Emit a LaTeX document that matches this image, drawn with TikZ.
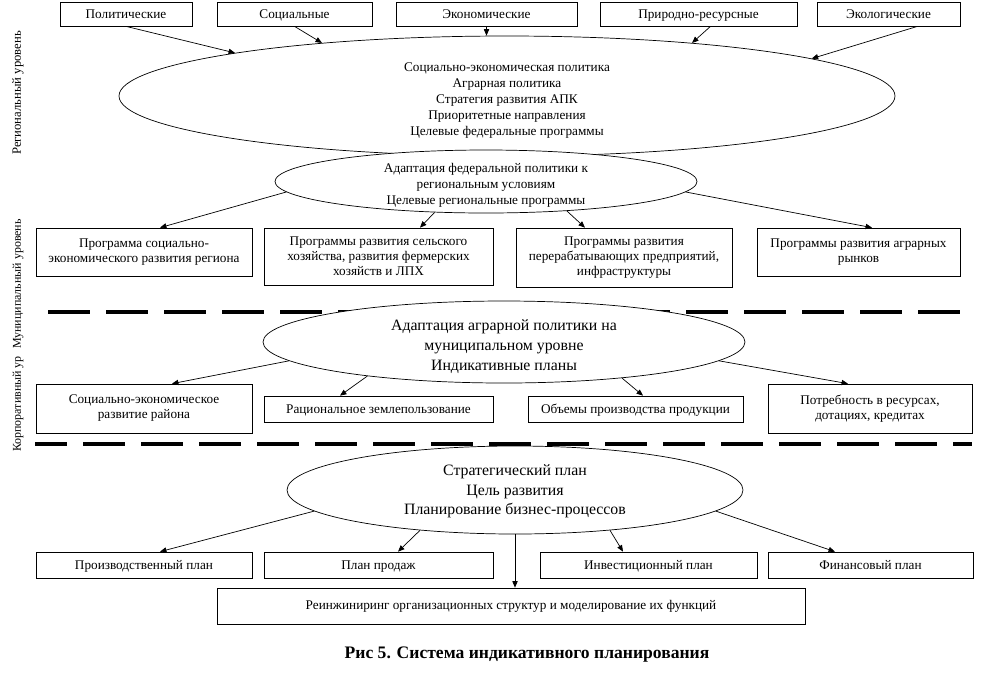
\documentclass[tikz,border=0pt]{standalone}
\usepackage{fontspec}
\setmainfont{Liberation Serif}
\usetikzlibrary{arrows.meta,shapes.geometric}
\newlength{\unitpx}
\setlength{\unitpx}{0.03cm}
\tikzset{
  box/.style  = {draw, line width=0.6pt, align=center, inner sep=0pt,
                 font=\fontsize{11.3}{12.8}\selectfont},
  oneline/.style = {text height=9pt, text depth=1pt},
  oval/.style = {ellipse, draw, line width=0.6pt, fill=white, inner sep=0pt},
  ovaltxt/.style = {align=center, inner sep=0pt},
  sz/.style 2 args = {minimum width=#1\unitpx, minimum height=#2\unitpx},
  ar/.style   = {-{Triangle[length=5.5pt,width=4.5pt]}, line width=0.6pt},
  sep/.style  = {line width=3.4pt, dash pattern=on 42\unitpx off 16\unitpx},
  lvl/.style  = {rotate=90, inner sep=0pt, font=\fontsize{10.2}{12}\selectfont},
}

\begin{document}
\begin{tikzpicture}[x=0.03cm, y=-0.03cm]
  \useasboundingbox (0,0) rectangle (985,686);

  % level separators
  \draw[sep] (48,312) -- (963,312);
  \draw[sep, dash phase=10\unitpx] (35,444) -- (972,444);

  % factors
  \node[box, oneline, sz={132}{24}] (pol) at (126,14)   {Политические};
  \node[box, oneline, sz={155}{24}] (soc) at (294.5,14) {Социальные};
  \node[box, oneline, sz={181}{24}] (eco) at (486.5,14) {Экономические};
  \node[box, oneline, sz={197}{24}] (nat) at (698.5,14) {Природно-ресурсные};
  \node[box, oneline, sz={143}{24}] (ecl) at (888.5,14) {Экологические};

  % regional level
  \node[oval, sz={776}{120}] (fed) at (507,96) {};
  \node[ovaltxt, font=\fontsize{11.3}{13.6}\selectfont] (fedtxt) at (507,100.5)
       {Социально-экономическая политика\\Аграрная политика\\Стратегия развития АПК\\
        Приоритетные направления\\Целевые федеральные программы};
  \node[oval, sz={422}{63}] (regad) at (486,181.5) {};
  \node[ovaltxt, font=\fontsize{11.3}{13.6}\selectfont] (regadtxt) at (486,185.5)
       {Адаптация федеральной политики к\\региональным условиям\\Целевые региональные программы};

  \node[box, sz={216}{48}] (prsoc)  at (144,252)
       {Программа социально-\\экономического развития региона};
  \node[box, sz={229}{57}] (pragr)  at (378.5,256.5)
       {Программы развития сельского\\хозяйства, развития фермерских\\хозяйств и ЛПХ};
  \node[box, sz={216}{59}] (prproc) at (624,257.5)
       {Программы развития\\перерабатывающих предприятий,\\инфраструктуры};
  \node[box, sz={203}{48}] (prmark) at (858.5,252)
       {Программы развития аграрных\\рынков};

  % municipal level
  \node[oval, sz={482}{82}] (munad) at (504,342) {};
  \node[ovaltxt, font=\fontsize{13.5}{17}\selectfont] (munadtxt) at (504,347)
       {Адаптация аграрной политики на\\муниципальном уровне\\Индикативные планы};
  \node[box, sz={216}{49}] (mdist) at (144,408.5)
       {Социально-экономическое\\развитие района};
  \node[box, oneline, sz={229}{26}] (mland) at (378.5,409) {Рациональное землепользование};
  \node[box, oneline, sz={215}{26}] (mprod) at (635.5,409) {Объемы производства продукции};
  \node[box, sz={204}{49}] (mneed) at (870,408.5)
       {Потребность в ресурсах,\\дотациях, кредитах};

  % corporate level
  \node[oval, sz={456}{88}] (strat) at (515,490) {};
  \node[ovaltxt, font=\fontsize{13.5}{16.5}\selectfont] (strattxt) at (515,491.5)
       {Стратегический план\\Цель развития\\Планирование бизнес-процессов};
  \node[box, oneline, sz={216}{26}] (rprod) at (144,565)   {Производственный план};
  \node[box, oneline, sz={229}{26}] (rsale) at (378.5,565) {План продаж};
  \node[box, oneline, sz={217}{26}] (rinv)  at (648.5,565) {Инвестиционный план};
  \node[box, oneline, sz={205}{26}] (rfin)  at (870.5,565) {Финансовый план};
  \node[box, sz={588}{36}] (rreeng) at (511,606)
       {Реинжиниринг организационных структур и моделирование их функций};

  \node[lvl, font=\fontsize{10.8}{12}\selectfont] (lreg) at (18,93) {Региональный уровень};
  \node[lvl, anchor=east] (lmun) at (18,219) {Муниципальный уровень};
  \node[lvl, anchor=west] (lcorp) at (18,452) {Корпоративный ур};

  \node[font=\fontsize{15}{17}\selectfont\bfseries] (caption) at (527,655)
       {Рис 5. Система индикативного планирования};

  \draw[ar] (pol.south) -- (fed.171);
  \draw[ar] (soc.south) -- (fed.164);
  \draw[ar] (eco.south) -- (eco.south |- fed.north);
  \draw[ar] ([shift={(12,0)}]nat.south) -- (fed.16);
  \draw[ar] ([shift={(29,0)}]ecl.south) -- (fed.7);

  \draw[ar] (regad.183) -- ([shift={(16,0)}]prsoc.north);
  \draw[ar] (regad.211) -- ([shift={(41.5,0)}]pragr.north);
  \draw[ar] (regad.340) -- ([shift={(-39,0)}]prproc.north);
  \draw[ar] (regad.357) -- ([shift={(13.5,0)}]prmark.north);

  \draw[ar] (munad.185) -- ([shift={(28,0)}]mdist.north);
  \draw[ar] (munad.194) -- ([shift={(-38.5,0)}]mland.north);
  \draw[ar] (munad.343) -- ([shift={(7.5,0)}]mprod.north);
  \draw[ar] (munad.355) -- ([shift={(-22,0)}]mneed.north);

  \draw[ar] (strat.186) -- ([shift={(16,0)}]rprod.north);
  \draw[ar] (strat.203) -- ([shift={(19.5,0)}]rsale.north);
  \draw[ar] (strat.337) -- ([shift={(-25.5,0)}]rinv.north);
  \draw[ar] (strat.354) -- ([shift={(-35.5,0)}]rfin.north);
  \draw[ar] (strat.south) -- (strat.south |- rreeng.north);
\end{tikzpicture}
\end{document}
